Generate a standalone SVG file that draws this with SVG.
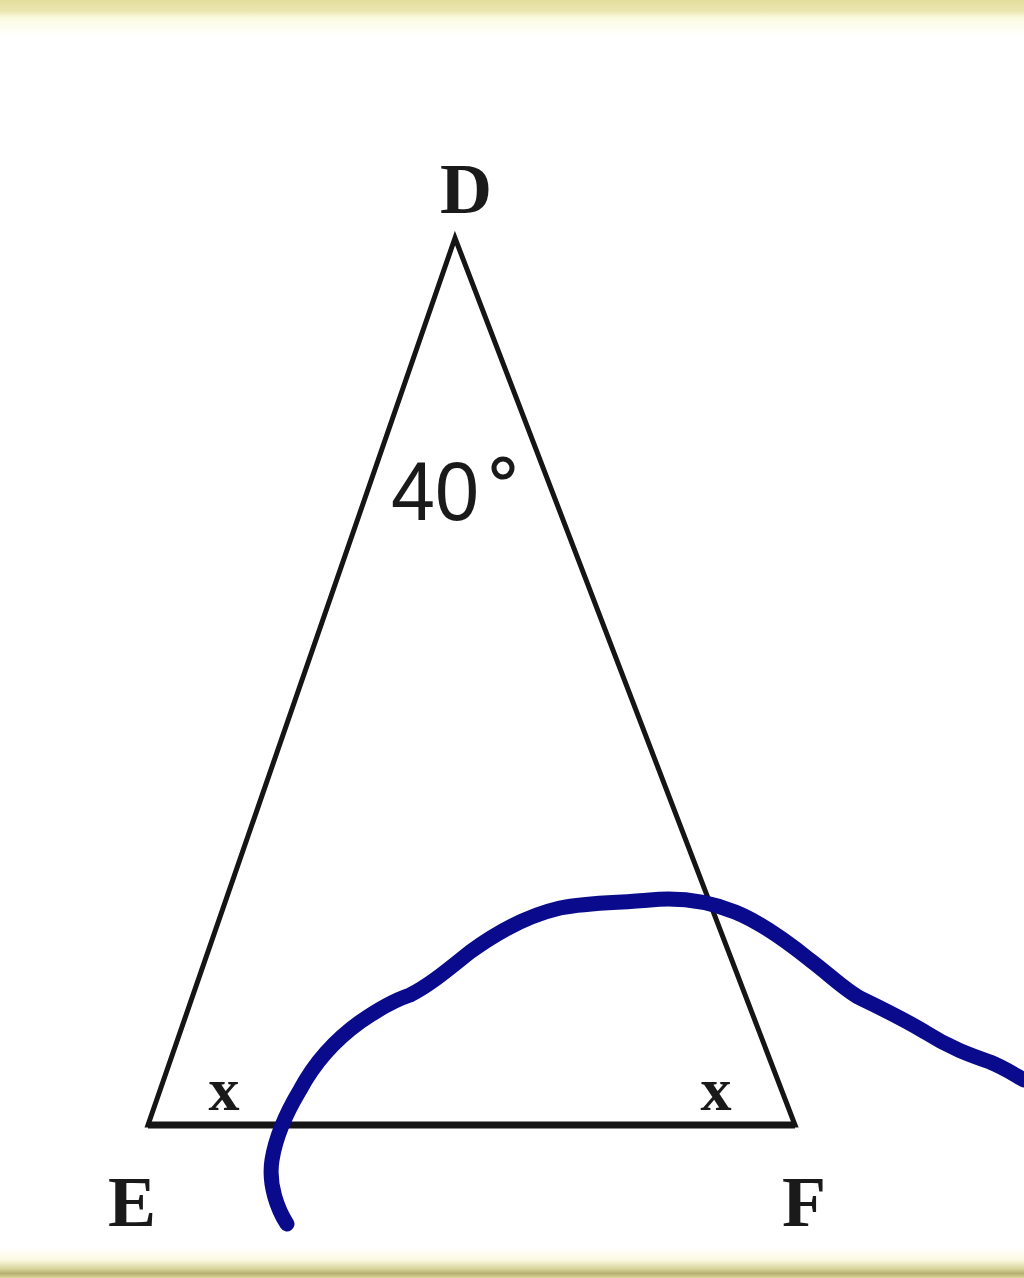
<svg xmlns="http://www.w3.org/2000/svg" width="1024" height="1278" viewBox="0 0 1024 1278">
<defs>
<linearGradient id="topb" x1="0" y1="0" x2="0" y2="1"><stop offset="0" stop-color="#e4dd9c"/><stop offset="0.3" stop-color="#ebe6b0"/><stop offset="0.5" stop-color="#fbfbe2"/><stop offset="1" stop-color="#ffffff"/></linearGradient>
<linearGradient id="botb" x1="0" y1="0" x2="0" y2="1"><stop offset="0" stop-color="#ffffff"/><stop offset="0.4" stop-color="#fbf9e0"/><stop offset="0.7" stop-color="#d8d49a"/><stop offset="0.85" stop-color="#b4b070"/><stop offset="1" stop-color="#dcd79a"/></linearGradient>
<style>
.lbl{font-family:"Liberation Serif","DejaVu Serif",serif;font-weight:bold;fill:#1a1a1a}
.tri{fill:none;stroke:#151515;stroke-linejoin:miter}
</style>
</defs>
<rect width="1024" height="1278" fill="#ffffff"/>
<rect x="0" y="0" width="1024" height="36" fill="url(#topb)"/>
<rect x="0" y="1248" width="1024" height="30" fill="url(#botb)"/>
<g id="triangle">
<path class="tri" d="M455,238 L148,1125 L795,1125 Z" stroke-width="5"/>
<line x1="148" y1="1125" x2="795" y2="1125" stroke="#151515" stroke-width="7"/>
</g>
<g id="labels">
<text class="lbl" x="466" y="213" font-size="72" text-anchor="middle">D</text>
<text class="lbl" x="132" y="1226" font-size="72" text-anchor="middle">E</text>
<text class="lbl" x="804" y="1226" font-size="72" text-anchor="middle">F</text>
<text class="lbl" x="224" y="1110" font-size="62" text-anchor="middle">x</text>
<text class="lbl" x="716" y="1110" font-size="62" text-anchor="middle">x</text>
<text x="391" y="520" font-family="Liberation Sans, Arial, sans-serif" font-size="84" fill="#1a1a1a" textLength="88" lengthAdjust="spacingAndGlyphs">40</text>
<circle cx="503" cy="468" r="9" fill="none" stroke="#1a1a1a" stroke-width="5"/>
</g>
<g id="connectors">
<path d="M287,1224 C278,1210 268,1185 272,1160 C276,1135 288,1110 300,1090 C315,1062 335,1040 360,1022 C380,1008 395,1000 410,995 C430,985 450,968 470,952 C500,930 530,915 560,908 C590,902 620,903 650,900 C680,897 710,902 735,912 C760,922 785,940 810,960 C830,975 845,990 860,998 C885,1010 905,1020 925,1032 C950,1048 970,1055 990,1062 C1005,1068 1015,1075 1024,1080" fill="none" stroke="#0a0a8c" stroke-width="15" stroke-linecap="round" stroke-linejoin="round"/>
</g>
</svg>
